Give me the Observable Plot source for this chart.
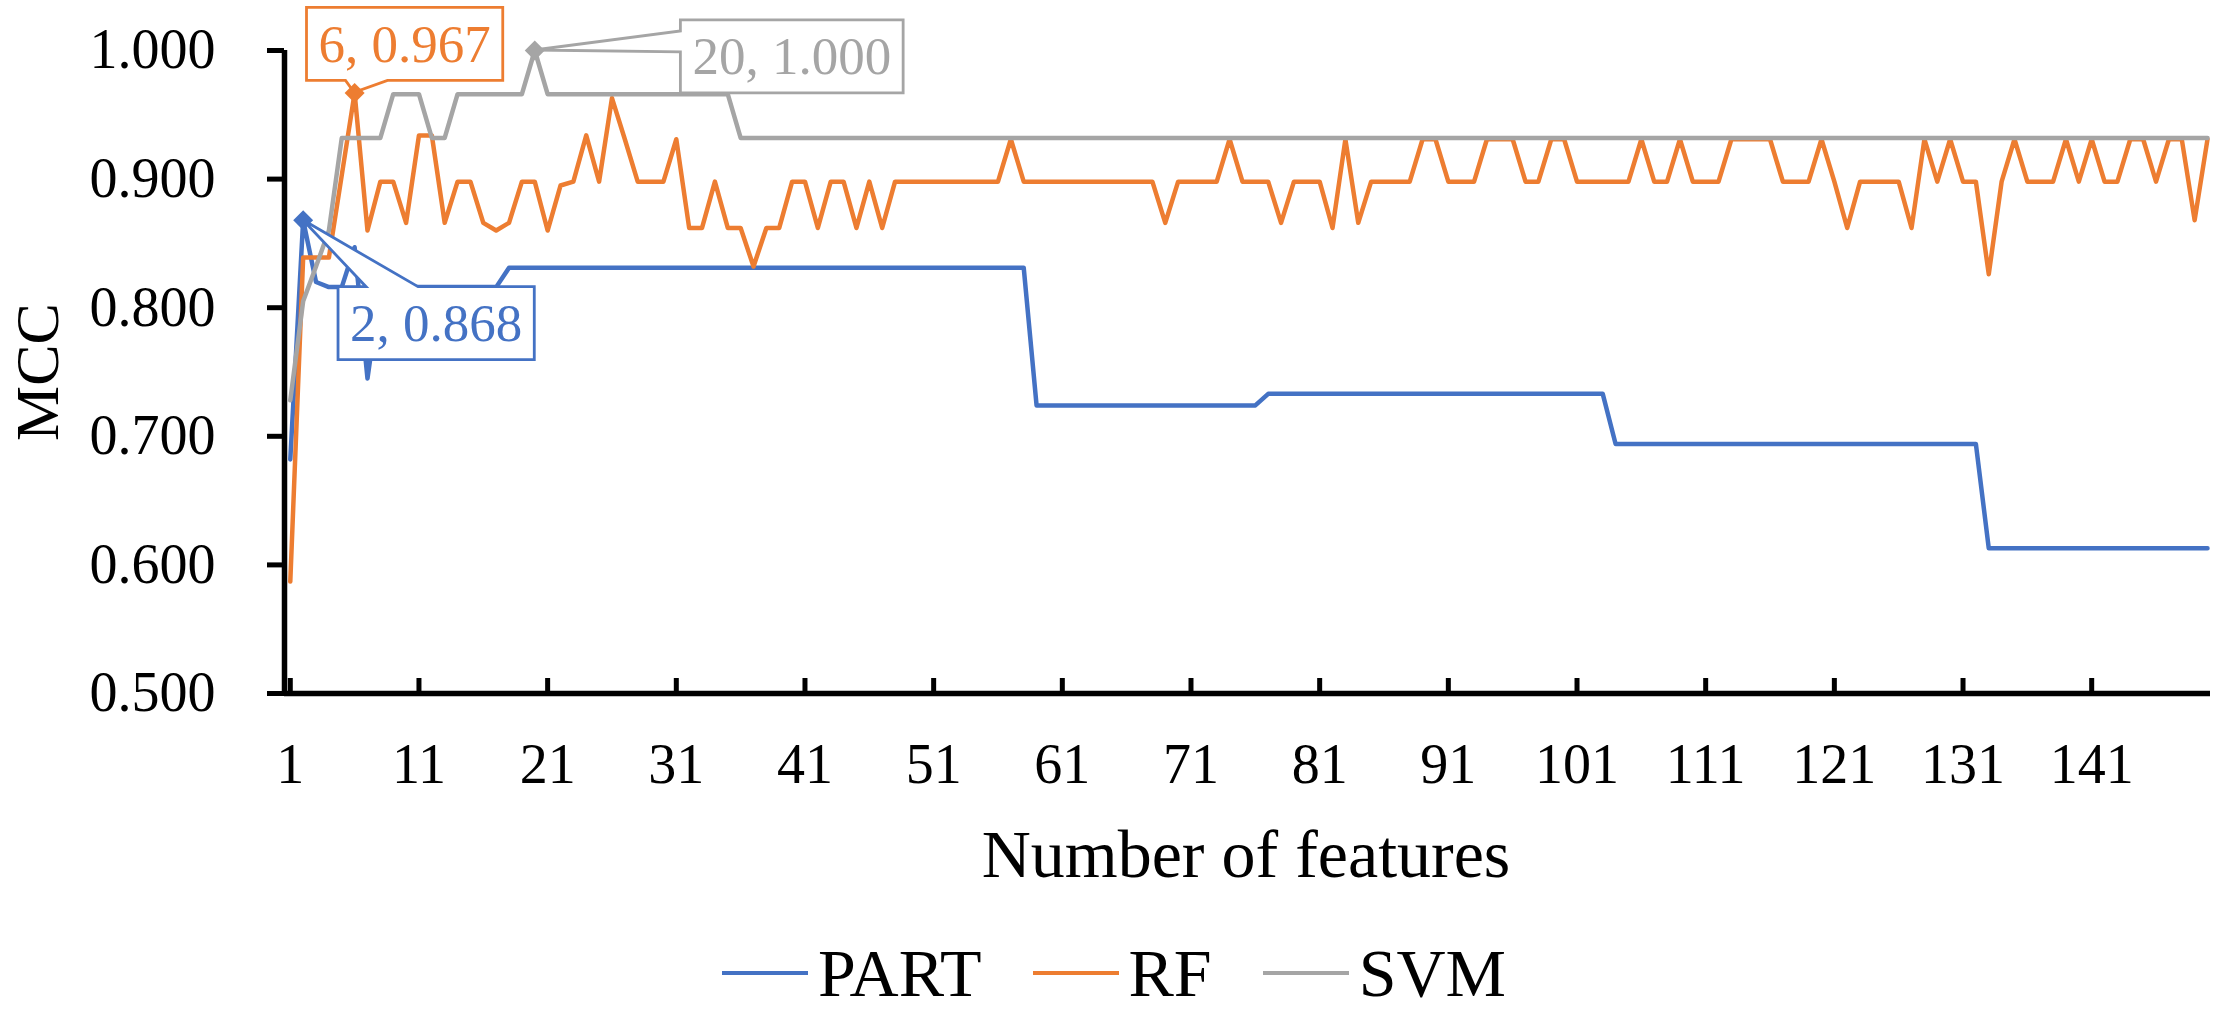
<!DOCTYPE html>
<html>
<head>
<meta charset="utf-8">
<script src="https://cdn.jsdelivr.net/npm/d3@7"></script>
<script src="https://cdn.jsdelivr.net/npm/@observablehq/plot@0.6"></script>
<style>
  body { margin: 0; background: #fff; font-family: "Liberation Serif", "Times New Roman", serif; }
  #wrap { width: 2217px; position: relative; }
  #legend { display: flex; align-items: center; height: 86px; padding-left: 722px; font-size: 68px; color: #000; box-sizing: border-box; }
  .sw { width: 86px; height: 4.5px; margin-right: 10px; }
  .lab { line-height: 1; }
</style>
</head>
<body>
<div id="wrap"></div>
<script>
// ---------- data ----------
const features = d3.range(1, 151);            // number of features 1..150
const seriesNames = ["PART", "RF", "SVM"];
const seriesColors = ["#4472C4", "#ED7D31", "#A5A5A5"];

const partMCC = [
  0.682, 0.868, 0.820, 0.816, 0.816, 0.847, 0.745, 0.816, 0.816, 0.816,
  0.816, 0.816, 0.816, 0.816, 0.816, 0.816, 0.816, 0.831, 0.831, 0.831,
  0.831, 0.831, 0.831, 0.831, 0.831, 0.831, 0.831, 0.831, 0.831, 0.831,
  0.831, 0.831, 0.831, 0.831, 0.831, 0.831, 0.831, 0.831, 0.831, 0.831,
  0.831, 0.831, 0.831, 0.831, 0.831, 0.831, 0.831, 0.831, 0.831, 0.831,
  0.831, 0.831, 0.831, 0.831, 0.831, 0.831, 0.831, 0.831, 0.724, 0.724,
  0.724, 0.724, 0.724, 0.724, 0.724, 0.724, 0.724, 0.724, 0.724, 0.724,
  0.724, 0.724, 0.724, 0.724, 0.724, 0.724, 0.733, 0.733, 0.733, 0.733,
  0.733, 0.733, 0.733, 0.733, 0.733, 0.733, 0.733, 0.733, 0.733, 0.733,
  0.733, 0.733, 0.733, 0.733, 0.733, 0.733, 0.733, 0.733, 0.733, 0.733,
  0.733, 0.733, 0.733, 0.694, 0.694, 0.694, 0.694, 0.694, 0.694, 0.694,
  0.694, 0.694, 0.694, 0.694, 0.694, 0.694, 0.694, 0.694, 0.694, 0.694,
  0.694, 0.694, 0.694, 0.694, 0.694, 0.694, 0.694, 0.694, 0.694, 0.694,
  0.694, 0.694, 0.613, 0.613, 0.613, 0.613, 0.613, 0.613, 0.613, 0.613,
  0.613, 0.613, 0.613, 0.613, 0.613, 0.613, 0.613, 0.613, 0.613, 0.613
];

const rfMCC = [
  0.587, 0.839, 0.839, 0.839, 0.903, 0.967, 0.860, 0.898, 0.898, 0.866,
  0.934, 0.934, 0.866, 0.898, 0.898, 0.866, 0.860, 0.866, 0.898, 0.898,
  0.860, 0.895, 0.898, 0.934, 0.898, 0.963, 0.931, 0.898, 0.898, 0.898,
  0.931, 0.862, 0.862, 0.898, 0.862, 0.862, 0.832, 0.862, 0.862, 0.898,
  0.898, 0.862, 0.898, 0.898, 0.862, 0.898, 0.862, 0.898, 0.898, 0.898,
  0.898, 0.898, 0.898, 0.898, 0.898, 0.898, 0.931, 0.898, 0.898, 0.898,
  0.898, 0.898, 0.898, 0.898, 0.898, 0.898, 0.898, 0.898, 0.866, 0.898,
  0.898, 0.898, 0.898, 0.931, 0.898, 0.898, 0.898, 0.866, 0.898, 0.898,
  0.898, 0.862, 0.931, 0.866, 0.898, 0.898, 0.898, 0.898, 0.931, 0.931,
  0.898, 0.898, 0.898, 0.931, 0.931, 0.931, 0.898, 0.898, 0.931, 0.931,
  0.898, 0.898, 0.898, 0.898, 0.898, 0.931, 0.898, 0.898, 0.931, 0.898,
  0.898, 0.898, 0.931, 0.931, 0.931, 0.931, 0.898, 0.898, 0.898, 0.931,
  0.898, 0.862, 0.898, 0.898, 0.898, 0.898, 0.862, 0.931, 0.898, 0.931,
  0.898, 0.898, 0.826, 0.898, 0.931, 0.898, 0.898, 0.898, 0.931, 0.898,
  0.931, 0.898, 0.898, 0.931, 0.931, 0.898, 0.931, 0.931, 0.868, 0.931
];

const svmMCC = [
  0.728, 0.805, 0.832, 0.860, 0.932, 0.932, 0.932, 0.932, 0.966, 0.966,
  0.966, 0.932, 0.932, 0.966, 0.966, 0.966, 0.966, 0.966, 0.966, 1.000,
  0.966, 0.966, 0.966, 0.966, 0.966, 0.966, 0.966, 0.966, 0.966, 0.966,
  0.966, 0.966, 0.966, 0.966, 0.966, 0.932, 0.932, 0.932, 0.932, 0.932,
  0.932, 0.932, 0.932, 0.932, 0.932, 0.932, 0.932, 0.932, 0.932, 0.932,
  0.932, 0.932, 0.932, 0.932, 0.932, 0.932, 0.932, 0.932, 0.932, 0.932,
  0.932, 0.932, 0.932, 0.932, 0.932, 0.932, 0.932, 0.932, 0.932, 0.932,
  0.932, 0.932, 0.932, 0.932, 0.932, 0.932, 0.932, 0.932, 0.932, 0.932,
  0.932, 0.932, 0.932, 0.932, 0.932, 0.932, 0.932, 0.932, 0.932, 0.932,
  0.932, 0.932, 0.932, 0.932, 0.932, 0.932, 0.932, 0.932, 0.932, 0.932,
  0.932, 0.932, 0.932, 0.932, 0.932, 0.932, 0.932, 0.932, 0.932, 0.932,
  0.932, 0.932, 0.932, 0.932, 0.932, 0.932, 0.932, 0.932, 0.932, 0.932,
  0.932, 0.932, 0.932, 0.932, 0.932, 0.932, 0.932, 0.932, 0.932, 0.932,
  0.932, 0.932, 0.932, 0.932, 0.932, 0.932, 0.932, 0.932, 0.932, 0.932,
  0.932, 0.932, 0.932, 0.932, 0.932, 0.932, 0.932, 0.932, 0.932, 0.932
];

const yTicks = [0.5, 0.6, 0.7, 0.8, 0.9, 1.0];
const xTicks = [1, 11, 21, 31, 41, 51, 61, 71, 81, 91, 101, 111, 121, 131, 141];
const xTitle = "Number of features";
const yTitle = "MCC";

// ---------- derived tables ----------
const allSeries = [partMCC, rfMCC, svmMCC];
const rows = [];
allSeries.forEach((vals, s) => vals.forEach((v, i) => rows.push({series: seriesNames[s], n: features[i], mcc: v})));

const best = allSeries.map((vals, s) => {
  const i = d3.maxIndex(vals);
  return {series: seriesNames[s], n: features[i], mcc: vals[i], label: `${features[i]}, ${vals[i].toFixed(3)}`};
});

// callout layout (pixel offsets of the label relative to its point, and pointer base on the box)
const calloutLayout = [
  {dx: 133, dy: 104, side: "top", from: 28, to: 80},
  {dx: 50, dy: -48, side: "bottom", from: 39, to: 81},
  {dx: 257, dy: 7, side: "left", from: 11, to: 32}
];

const W = 2217, H = 930;
const fontFamily = '"Liberation Serif", "Times New Roman", serif';
const xDomain = [0.55, 150];

const chart = Plot.plot({
  width: W,
  height: H,
  marginLeft: 284,
  marginRight: 10,
  marginTop: 50,
  marginBottom: H - 693,
  x: {type: "linear", domain: xDomain},
  y: {domain: [0.5, 1.0]},
  color: {domain: seriesNames, range: seriesColors},
  style: {fontFamily, background: "white", color: "black", overflow: "visible"},
  marks: [
    Plot.axisY({ticks: yTicks, tickFormat: d3.format(".3f"), tickSize: 17, tickPadding: 52, fontSize: 56, strokeWidth: 5, label: null}),
    Plot.axisX({ticks: xTicks, tickSize: 15, dy: -15, strokeWidth: 5, fill: "none", label: null}),
    Plot.axisX({ticks: xTicks, tickSize: 0, tickPadding: 50, fontSize: 56, label: null}),
    Plot.lineY(rows, {x: "n", y: "mcc", z: "series", stroke: "series", strokeWidth: 4.5, strokeLinejoin: "round"}),
    Plot.ruleX([xDomain[0]], {stroke: "black", strokeWidth: 5.5}),
    Plot.ruleY([0.5], {stroke: "black", strokeWidth: 5.5, insetRight: -3}),
    Plot.dot(best, {x: "n", y: "mcc", fill: "series", symbol: "diamond2", r: 9}),
    ...best.map((b, i) => Plot.text([b], {
      x: "n", y: "mcc", text: "label",
      dx: calloutLayout[i].dx, dy: calloutLayout[i].dy,
      fill: seriesColors[i], fontSize: 53
    })),
    Plot.text([xTitle], {text: d => d, frameAnchor: "bottom", lineAnchor: "middle", textAnchor: "middle", dy: 162, fontSize: 68}),
    Plot.text([yTitle], {text: d => d, frameAnchor: "left", textAnchor: "middle", lineAnchor: "middle", dx: -246, rotate: -90, fontSize: 62})
  ]
});

const wrap = document.getElementById("wrap");
wrap.appendChild(chart);

// ---------- callout boxes (built from the rendered labels and the chart scales) ----------
const sx = chart.scale("x"), sy = chart.scale("y");
const svgRect = chart.getBoundingClientRect();
const svgSel = d3.select(chart);
const allTexts = Array.from(chart.querySelectorAll("text"));
const labelNodes = best.map(b => allTexts.find(t => t.textContent === b.label) || null);
const firstNode = labelNodes.find(t => t);
const calloutG = firstNode
  ? svgSel.insert("g", () => firstNode.parentNode)
  : svgSel.append("g");
calloutG.attr("aria-label", "callout-boxes");
best.forEach((b, i) => {
  const t = labelNodes[i];
  if (!t) return;
  const r = t.getBoundingClientRect();
  const padX = 12, padY = 7.5;
  const x0 = r.left - svgRect.left - padX, x1 = r.right - svgRect.left + padX;
  const y0 = r.top - svgRect.top - padY, y1 = r.bottom - svgRect.top + padY;
  const ax = sx.apply(b.n), ay = sy.apply(b.mcc);
  const L = calloutLayout[i];
  let p;
  if (L.side === "top") {
    p = `M${x0},${y0}L${x0 + L.from},${y0}L${ax},${ay}L${x0 + L.to},${y0}L${x1},${y0}L${x1},${y1}L${x0},${y1}Z`;
  } else if (L.side === "bottom") {
    p = `M${x0},${y0}L${x1},${y0}L${x1},${y1}L${x0 + L.to},${y1}L${ax},${ay}L${x0 + L.from},${y1}L${x0},${y1}Z`;
  } else {
    p = `M${x0},${y0}L${x1},${y0}L${x1},${y1}L${x0},${y1}L${x0},${y0 + L.to}L${ax},${ay}L${x0},${y0 + L.from}Z`;
  }
  calloutG.append("path").attr("d", p).attr("fill", "white").attr("stroke", seriesColors[i]).attr("stroke-width", 2.8).attr("stroke-linejoin", "miter");
});
svgSel.selectAll('g[aria-label="dot"]').raise();
labelNodes.forEach(t => { if (t) d3.select(t.parentNode).raise(); });

// ---------- legend (HTML, below the SVG) ----------
const legend = d3.select(wrap).append("div").attr("id", "legend");
seriesNames.forEach((name, i) => {
  legend.append("div").attr("class", "sw").style("background", seriesColors[i]);
  legend.append("div").attr("class", "lab").style("margin-right", i === seriesNames.length - 1 ? "0" : "51px").text(name);
});
</script>
</body>
</html>
